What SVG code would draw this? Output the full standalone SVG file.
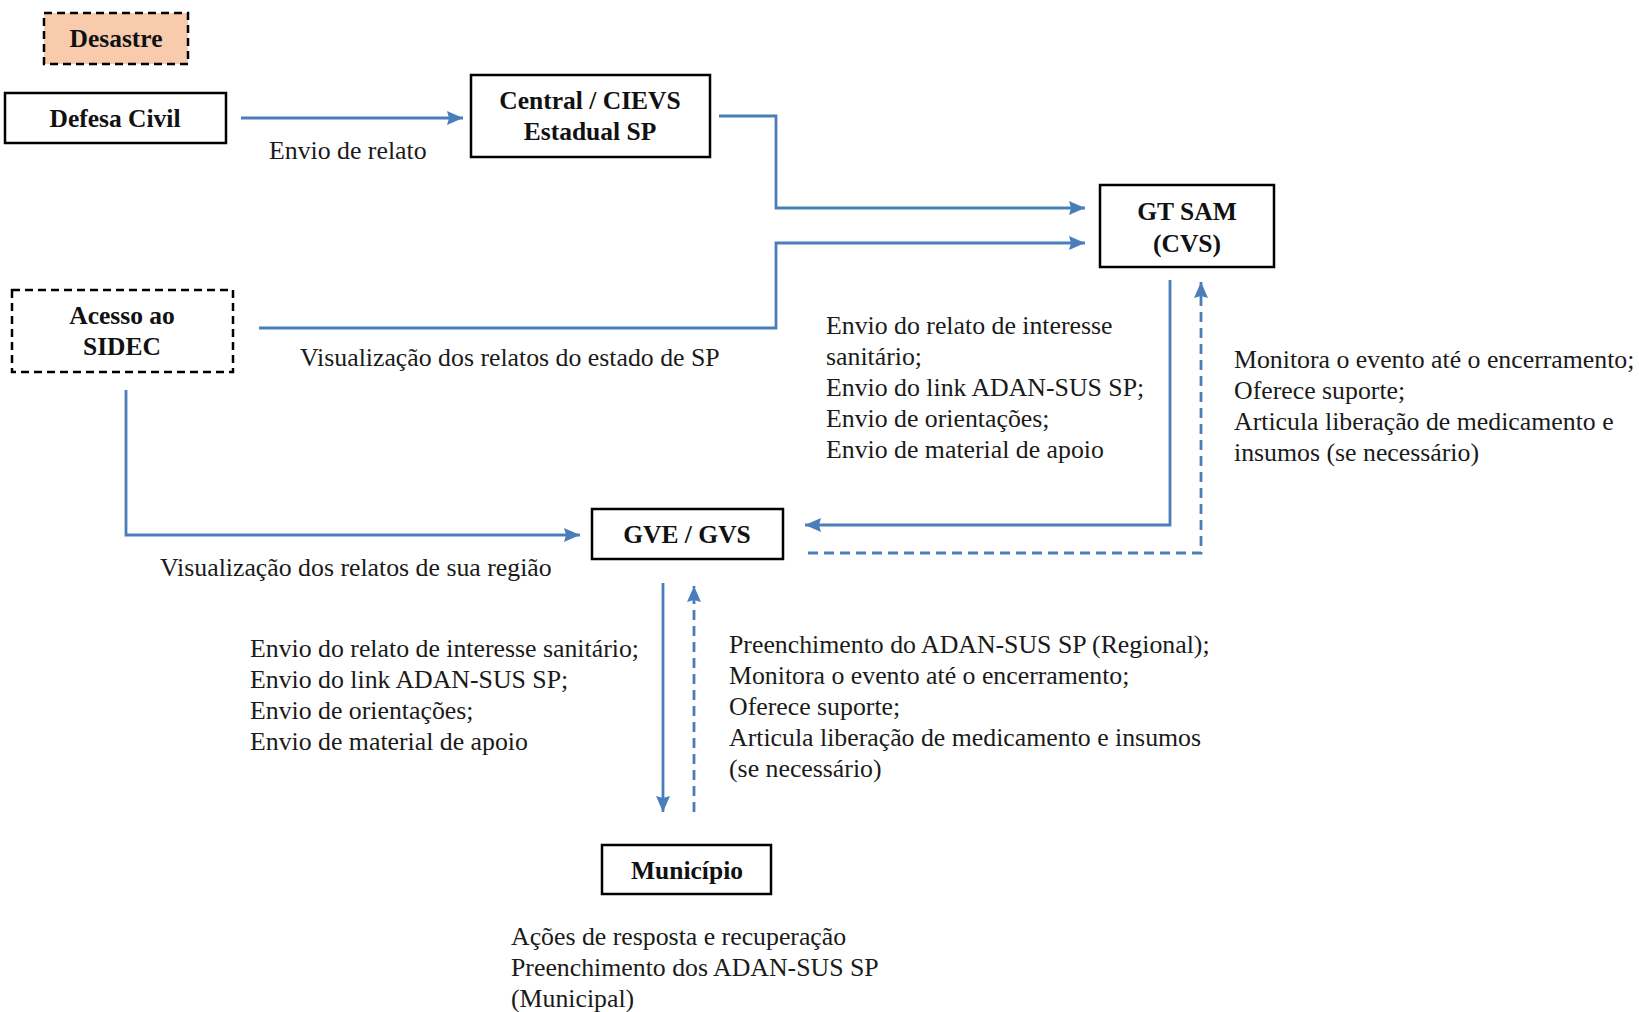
<svg xmlns="http://www.w3.org/2000/svg" width="1639" height="1012" viewBox="0 0 1639 1012">
<style>
.box{fill:#fff;stroke:#000;stroke-width:2.5}
.dbox{fill:#fff;stroke:#000;stroke-width:2.5;stroke-dasharray:8 5}
.peach{fill:#f8cbad}
.t{font-family:"Liberation Serif","Times New Roman",serif;font-size:25.8px;fill:#1a1a1a}
.b{font-family:"Liberation Serif","Times New Roman",serif;font-size:25.5px;font-weight:bold;fill:#111;text-anchor:middle}
.c{fill:none;stroke:#4a7ebb;stroke-width:2.8}
.d{stroke-dasharray:10 6}
</style>
<defs>
<marker id="ah" viewBox="0 0 16 14" refX="16" refY="7" markerWidth="16" markerHeight="14" markerUnits="userSpaceOnUse" orient="auto">
<path d="M0,0 L16,7 L0,14 L2,7 Z" fill="#4a7ebb"/>
</marker>
</defs>
<rect width="1639" height="1012" fill="#fff"/>

<g id="connectors">
<path class="c" d="M241,118 H463" marker-end="url(#ah)"/>
<path class="c" d="M719,116 H776 V208 H1085" marker-end="url(#ah)"/>
<path class="c" d="M259,328 H776 V243 H1085" marker-end="url(#ah)"/>
<path class="c" d="M126,390 V535 H580" marker-end="url(#ah)"/>
<path class="c" d="M1170,280 V525 H805" marker-end="url(#ah)"/>
<path class="c d" d="M808,553 H1201 V282" marker-end="url(#ah)"/>
<path class="c" d="M663,583 V812" marker-end="url(#ah)"/>
<path class="c d" d="M694,812 V586" marker-end="url(#ah)"/>
</g>

<g id="desastre">
<rect class="dbox peach" x="44" y="13" width="144" height="51"/>
<text class="b" x="116" y="47">Desastre</text>
</g>
<g id="defesa-civil">
<rect class="box" x="5" y="93" width="221" height="50"/>
<text class="b" x="115" y="127">Defesa Civil</text>
</g>
<g id="central-cievs">
<rect class="box" x="471" y="75" width="239" height="82"/>
<text class="b" x="590" y="109">Central / CIEVS</text>
<text class="b" x="590" y="140">Estadual SP</text>
</g>
<g id="gt-sam">
<rect class="box" x="1100" y="185" width="174" height="82"/>
<text class="b" x="1187" y="220">GT SAM</text>
<text class="b" x="1187" y="252">(CVS)</text>
</g>
<g id="sidec">
<rect class="dbox" x="12" y="290" width="221" height="82"/>
<text class="b" x="122" y="324">Acesso ao</text>
<text class="b" x="122" y="355">SIDEC</text>
</g>
<g id="gve-gvs">
<rect class="box" x="592" y="509" width="191" height="50"/>
<text class="b" x="687" y="543">GVE / GVS</text>
</g>
<g id="municipio">
<rect class="box" x="602" y="845" width="169" height="49"/>
<text class="b" x="687" y="879">Município</text>
</g>

<g id="labels">
<text class="t" x="269" y="159">Envio de relato</text>
<text class="t" x="300" y="366">Visualização dos relatos do estado de SP</text>
<text class="t" x="160" y="576">Visualização dos relatos de sua região</text>
<text class="t" x="826"><tspan x="826" y="334">Envio do relato de interesse</tspan><tspan x="826" y="365">sanitário;</tspan><tspan x="826" y="396">Envio do link ADAN-SUS SP;</tspan><tspan x="826" y="427">Envio de orientações;</tspan><tspan x="826" y="458">Envio de material de apoio</tspan></text>
<text class="t" x="1234"><tspan x="1234" y="368">Monitora o evento até o encerramento;</tspan><tspan x="1234" y="399">Oferece suporte;</tspan><tspan x="1234" y="430">Articula liberação de medicamento e</tspan><tspan x="1234" y="461">insumos (se necessário)</tspan></text>
<text class="t" x="250"><tspan x="250" y="657">Envio do relato de interesse sanitário;</tspan><tspan x="250" y="688">Envio do link ADAN-SUS SP;</tspan><tspan x="250" y="719">Envio de orientações;</tspan><tspan x="250" y="750">Envio de material de apoio</tspan></text>
<text class="t" x="729"><tspan x="729" y="653">Preenchimento do ADAN-SUS SP (Regional);</tspan><tspan x="729" y="684">Monitora o evento até o encerramento;</tspan><tspan x="729" y="715">Oferece suporte;</tspan><tspan x="729" y="746">Articula liberação de medicamento e insumos</tspan><tspan x="729" y="777">(se necessário)</tspan></text>
<text class="t" x="511"><tspan x="511" y="945">Ações de resposta e recuperação</tspan><tspan x="511" y="976">Preenchimento dos ADAN-SUS SP</tspan><tspan x="511" y="1007">(Municipal)</tspan></text>
</g>
</svg>
